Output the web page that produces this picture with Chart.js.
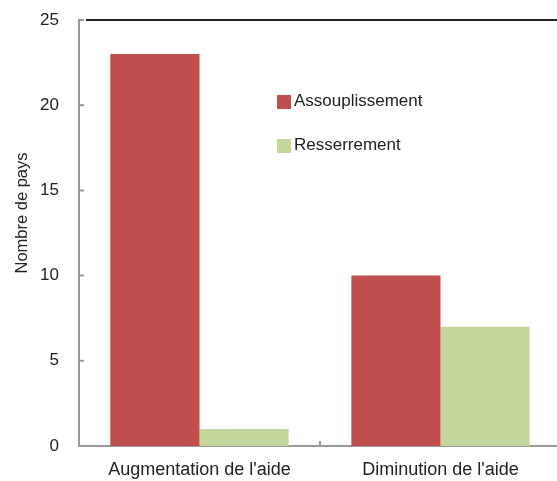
<!DOCTYPE html>
<html lang="fr">
<head>
    <meta charset="UTF-8">
    <title>Nombre de pays</title>
    <script src="https://cdn.jsdelivr.net/npm/chart.js"></script>
    <style>
        html, body { margin: 0; padding: 0; overflow: hidden; background: #fff; }
        #wrap { width: 562px; height: 481px; }
    </style>
</head>
<body>
    <div id="wrap"><canvas id="barChart"></canvas></div>

    <script>
        const categories = ['Augmentation de l\'aide', 'Diminution de l\'aide'];
        const assouplissement = [23, 10];
        const resserrement = [1, 7];
        const yTicks = [0, 5, 10, 15, 20, 25];
        const yTitle = 'Nombre de pays';

        const fontFamily = '"Liberation Sans Narrow", "Liberation Sans", Arial, sans-serif';

        // frame bits, inner ticks, axis title and the legend inside the plot
        const decor = {
            id: 'decor',
            afterDraw(chart) {
                const ctx = chart.ctx;
                const area = chart.chartArea;
                const y = chart.scales.y;
                const x = chart.scales.x;
                ctx.save();
                ctx.strokeStyle = '#222';
                ctx.lineWidth = 2;
                ctx.beginPath();
                ctx.moveTo(area.left + 7, area.top);
                ctx.lineTo(chart.width, area.top);
                ctx.stroke();

                ctx.strokeStyle = '#999';
                ctx.lineWidth = 2;
                ctx.beginPath();
                yTicks.forEach(v => {
                    const py = y.getPixelForValue(v);
                    ctx.moveTo(area.left, py);
                    ctx.lineTo(area.left + 5, py);
                });
                const mid = (x.getPixelForValue(0) + x.getPixelForValue(1)) / 2;
                ctx.moveTo(mid, area.bottom);
                ctx.lineTo(mid, area.bottom - 5);
                ctx.stroke();

                ctx.fillStyle = '#222';
                ctx.font = '16.5px ' + fontFamily;
                ctx.textAlign = 'center';
                ctx.textBaseline = 'middle';
                ctx.save();
                ctx.translate(22, 213);
                ctx.rotate(-Math.PI / 2);
                ctx.fillText(yTitle, 0, 0);
                ctx.restore();

                ctx.font = '17px ' + fontFamily;
                ctx.textAlign = 'left';
                chart.data.datasets.forEach((ds, i) => {
                    const ly = 101 + i * 44;
                    ctx.fillStyle = ds.backgroundColor;
                    ctx.fillRect(277, ly - 6, 14, 14);
                    ctx.fillStyle = '#222';
                    ctx.fillText(ds.label, 294, ly);
                });
                ctx.restore();
            }
        };

        const ctx = document.getElementById('barChart').getContext('2d');
        const chart = new Chart(ctx, {
            type: 'bar',
            data: {
                labels: categories,
                datasets: [{
                    label: 'Assouplissement',
                    data: assouplissement,
                    backgroundColor: '#C0504D',
                    categoryPercentage: 0.74,
                    barPercentage: 1
                }, {
                    label: 'Resserrement',
                    data: resserrement,
                    backgroundColor: '#C3D69B',
                    categoryPercentage: 0.74,
                    barPercentage: 1
                }]
            },
            options: {
                responsive: true,
                maintainAspectRatio: false,
                animation: false,
                layout: { padding: { top: 0, right: 1 } },
                plugins: {
                    legend: { display: false },
                    tooltip: { enabled: false }
                },
                scales: {
                    x: {
                        grid: { display: false, drawTicks: false },
                        border: { color: '#999', width: 2 },
                        ticks: {
                            color: '#222',
                            padding: 13,
                            maxRotation: 0,
                            font: { family: fontFamily, size: 18 }
                        },
                        afterFit: s => { s.height = 35; }
                    },
                    y: {
                        min: 0,
                        max: 25,
                        grid: { display: false, drawTicks: false },
                        border: { color: '#999', width: 2 },
                        ticks: {
                            stepSize: 5,
                            color: '#222',
                            padding: 20,
                            font: { family: fontFamily, size: 17 }
                        },
                        afterFit: s => {
                            s.width = 79;
                            s.paddingTop = 20;
                            s.paddingBottom = 0;
                        }
                    }
                }
            },
            plugins: [decor]
        });
    </script>
</body>
</html>
